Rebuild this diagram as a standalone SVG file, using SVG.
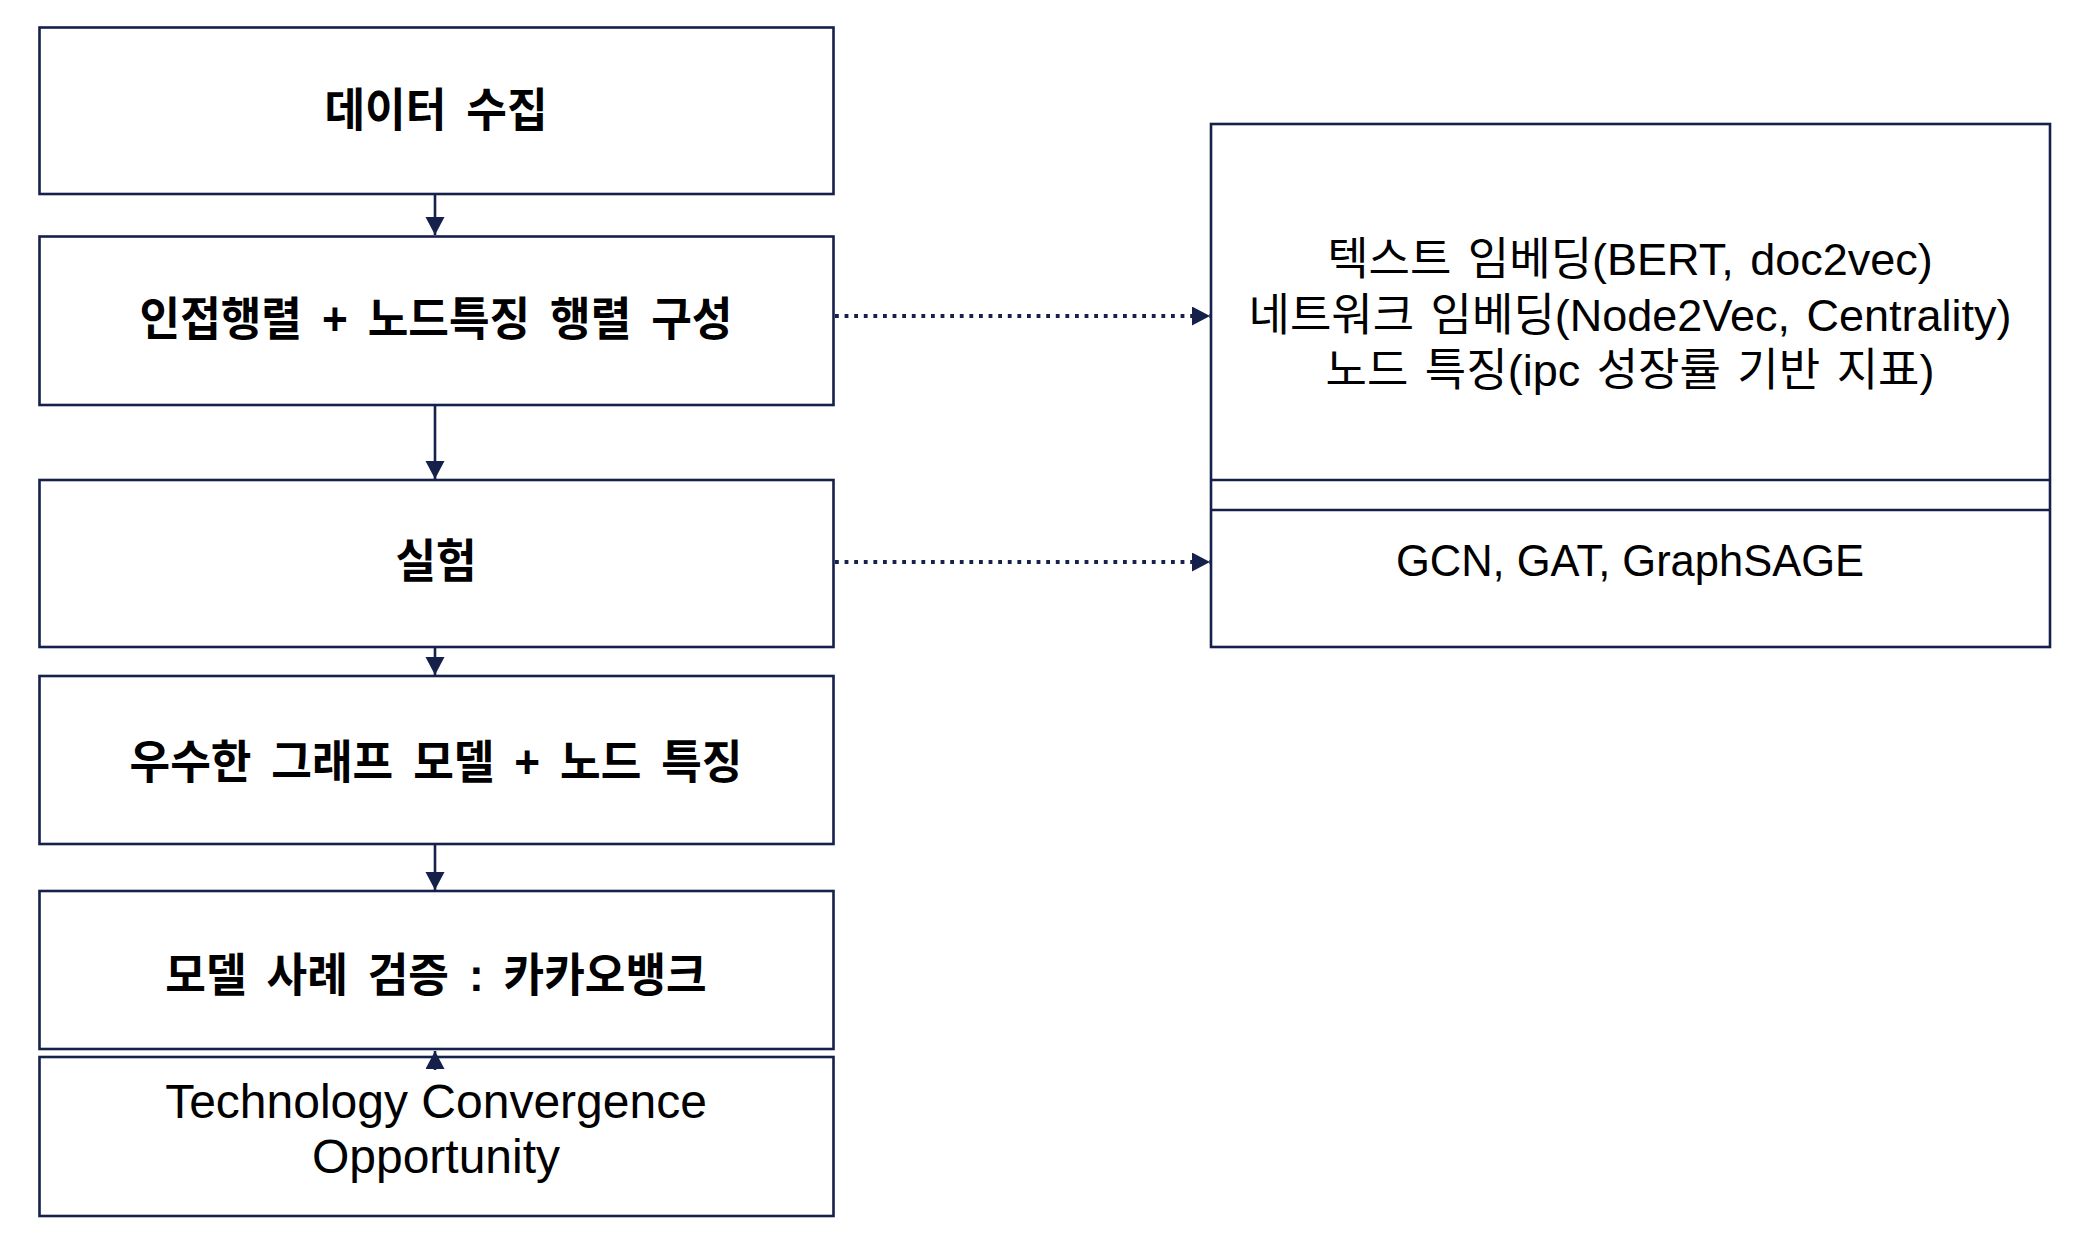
<svg xmlns="http://www.w3.org/2000/svg" width="2074" height="1252" viewBox="0 0 2074 1252">
<style>
.box{fill:#ffffff;stroke:#15204b;stroke-width:2.6}
.ln{stroke:#15204b;stroke-width:2.6;fill:none}
.kl{font-family:"Liberation Sans","Noto Sans CJK KR",sans-serif;font-size:46px;font-weight:bold;fill:#000;text-anchor:middle;word-spacing:8px}
.kr{font-family:"Liberation Sans","Noto Sans CJK KR",sans-serif;font-size:45px;fill:#000;text-anchor:middle;word-spacing:4px}
.gc{font-family:"Liberation Sans","Noto Sans CJK KR",sans-serif;font-size:43.5px;fill:#000;text-anchor:middle}
.en{font-family:"Liberation Sans","Noto Sans CJK KR",sans-serif;font-size:48px;fill:#000;text-anchor:middle}
.solid{stroke:#15204b;stroke-width:2.6;fill:none}
.dot{stroke:#15204b;stroke-width:3.8;fill:none;stroke-dasharray:3.8 5.8}
</style>
<defs>
<marker id="ah" markerUnits="userSpaceOnUse" markerWidth="19" markerHeight="20" refX="18" refY="9.5" orient="auto">
<path d="M0,0 L18,9.5 L0,19 Z" fill="#15204b"/>
</marker>
</defs>
<rect width="2074" height="1252" fill="#ffffff"/>
<g id="n1"><rect class="box" x="39.5" y="27.5" width="794" height="166.5"/><text class="kl" transform="translate(436,126) scale(0.96,1)">데이터 수집</text></g>
<g id="n2"><rect class="box" x="39.5" y="236.5" width="794" height="168.5"/><text class="kl" transform="translate(436,335) scale(0.96,1)">인접행렬 + 노드특징 행렬 구성</text></g>
<g id="n3"><rect class="box" x="39.5" y="480" width="794" height="167"/><text class="kl" transform="translate(436,577) scale(0.96,1)">실험</text></g>
<g id="n4"><rect class="box" x="39.5" y="676" width="794" height="168"/><text class="kl" transform="translate(436,778) scale(0.96,1)">우수한 그래프 모델 + 노드 특징</text></g>
<g id="n5"><rect class="box" x="39.5" y="891" width="794" height="158"/><text class="kl" transform="translate(436,991) scale(0.96,1)">모델 사례 검증 : 카카오뱅크</text></g>
<g id="n6"><rect class="box" x="39.5" y="1057" width="794" height="159"/><text class="en" x="436" y="1118">Technology Convergence</text><text class="en" x="436" y="1173">Opportunity</text></g>
<g id="n7"><rect class="box" x="1211" y="124" width="839" height="523"/><line class="ln" x1="1211" y1="480" x2="2050" y2="480"/><line class="ln" x1="1211" y1="510" x2="2050" y2="510"/>
<text class="kr" x="1630" y="275">텍스트 임베딩(BERT, doc2vec)</text>
<text class="kr" x="1630" y="331">네트워크 임베딩(Node2Vec, Centrality)</text>
<text class="kr" x="1630" y="386">노드 특징(ipc 성장률 기반 지표)</text>
<text class="gc" x="1630" y="576">GCN, GAT, GraphSAGE</text></g>
<g id="connectors">
<line class="solid" x1="435" y1="194" x2="435" y2="235" marker-end="url(#ah)"/>
<line class="solid" x1="435" y1="405" x2="435" y2="479" marker-end="url(#ah)"/>
<line class="solid" x1="435" y1="647" x2="435" y2="675" marker-end="url(#ah)"/>
<line class="solid" x1="435" y1="844" x2="435" y2="890" marker-end="url(#ah)"/>
<line class="solid" x1="435" y1="1070" x2="435" y2="1051" marker-end="url(#ah)"/>
<line class="dot" x1="835" y1="316" x2="1210" y2="316" marker-end="url(#ah)"/>
<line class="dot" x1="835" y1="562" x2="1210" y2="562" marker-end="url(#ah)"/>
</g>
</svg>
